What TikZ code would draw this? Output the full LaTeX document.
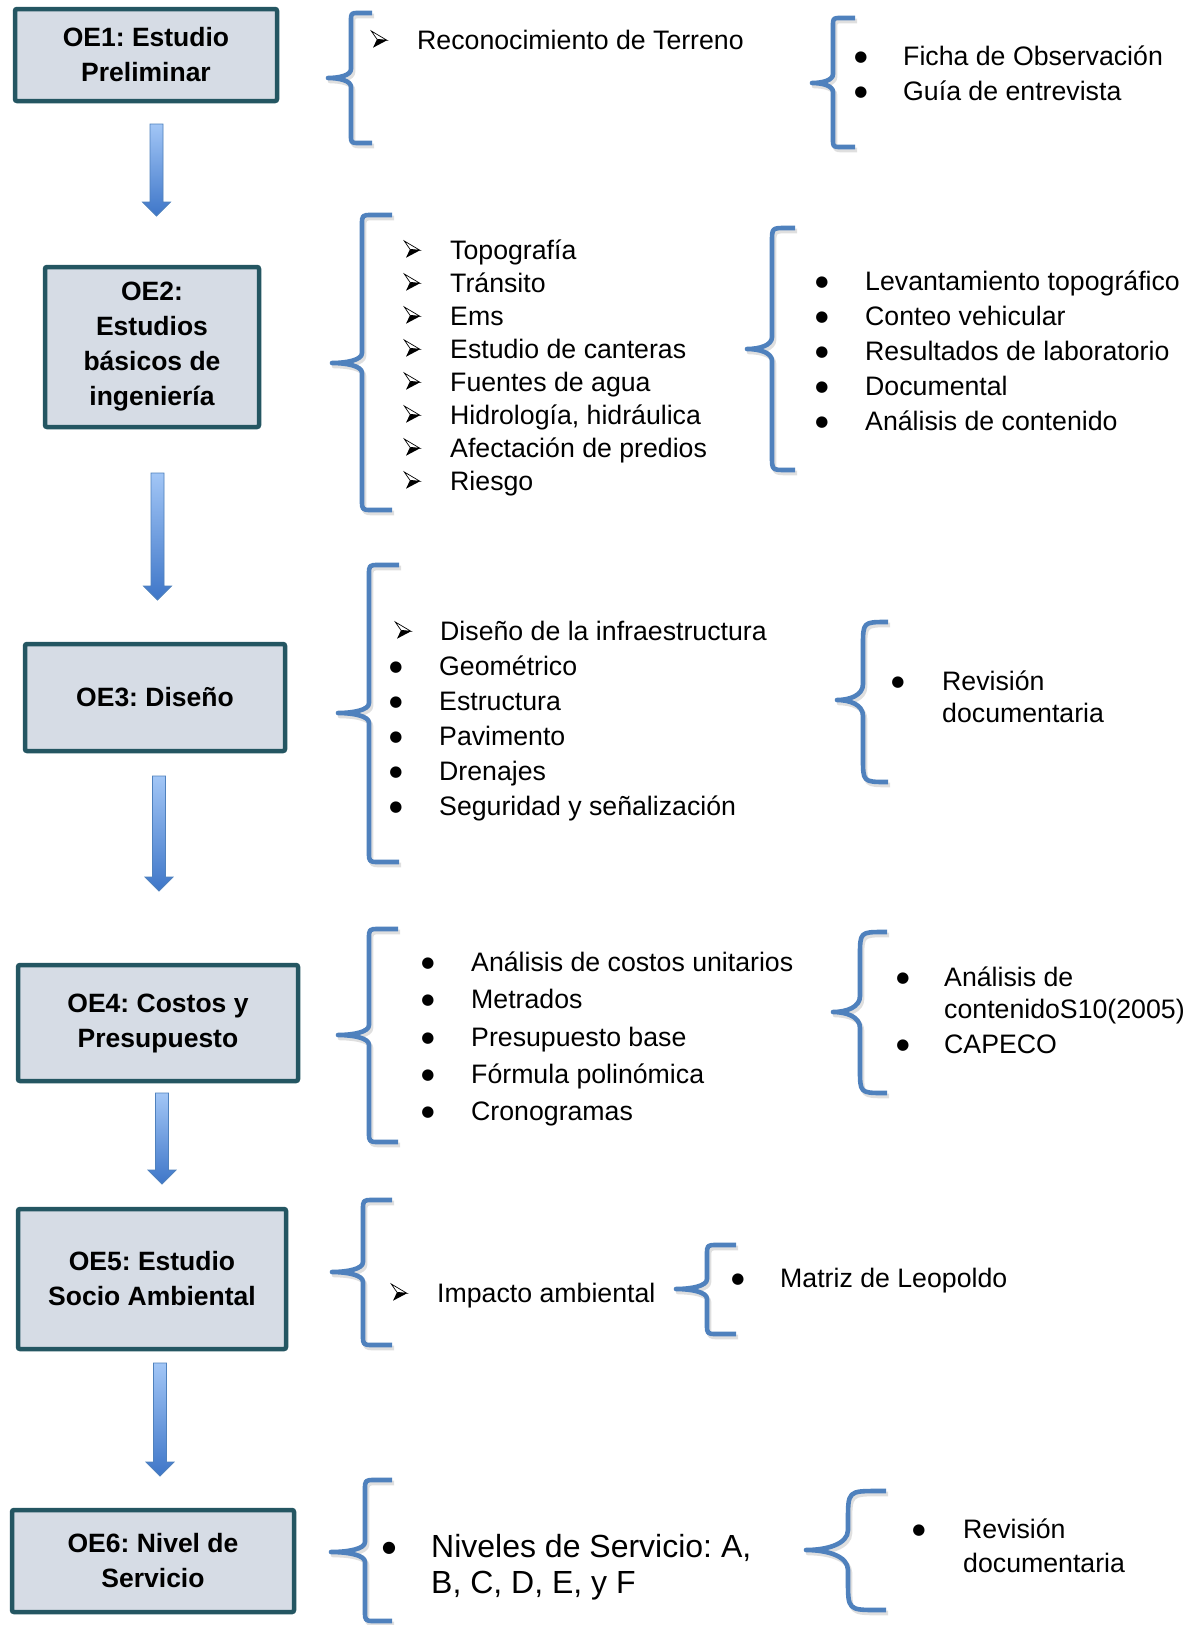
\documentclass[tikz,border=0pt]{standalone}
\usepackage{fontspec}
\setmainfont{Liberation Sans}
\newfontfamily\symfont{DejaVu Sans}
\usetikzlibrary{calc}
\frenchspacing
\definecolor{bracec}{RGB}{79,129,189}
\definecolor{boxline}{RGB}{36,86,98}
\definecolor{boxfill}{RGB}{214,220,229}
\definecolor{arrtop}{RGB}{162,198,246}
\definecolor{arrbot}{RGB}{62,118,200}
\tikzset{
  oebox/.style={draw=boxline, line width=4.5pt, fill=boxfill, rounded corners=2pt, align=center,
    font=\bfseries\fontsize{26.5}{35}\selectfont, inner sep=0pt},
  listtxt/.style={anchor=base west, inner sep=0pt, font=\fontsize{26.7}{35}\selectfont},
  bigtxt/.style={anchor=base west, inner sep=0pt, font=\fontsize{32}{36}\selectfont},
  bul/.style={anchor=base, yshift=4pt, inner sep=0pt, font=\symfont\fontsize{15}{15}\selectfont},
  bigbul/.style={anchor=base, yshift=5pt, inner sep=0pt, font=\symfont\fontsize{16}{16}\selectfont},
  arrowbul/.pic={
    \draw[line width=0.7pt, fill=white, line join=miter] (-7.7,-8) -- (8,1.3) -- (-2,0.3) -- cycle;
    \fill[black] (-2,0.3) -- (8,1.3) -- (-6,8.7) -- cycle;
  },
  bracestyle/.style={draw=bracec, line width=4.6pt, line join=round},
  braceshadow/.style={draw=black!35, opacity=.35, line width=4.6pt, line join=round},
}
% xv xtip xarm ytop ymid ybot rc m
\newcommand\bracehalfs[8]{%
  (#3,#4) -- ({#1+#7},#4) .. controls (#1,#4) .. (#1,{#4+#7}) -- (#1,{#5-#8})
  .. controls (#1,{#5-0.3*#8}) and ({#1-0.5*(#1-#2)},#5) .. (#2,#5)
  .. controls ({#1-0.5*(#1-#2)},#5) and (#1,{#5+0.3*#8}) .. (#1,{#5+#8})
  -- (#1,{#6-#7}) .. controls (#1,#6) .. ({#1+#7},#6) -- (#3,#6)}
\newcommand\mybrace[8]{%
  \draw[braceshadow, shift={(2,3)}] \bracehalfs{#1}{#2}{#3}{#4}{#5}{#6}{#7}{#8};
  \draw[bracestyle] \bracehalfs{#1}{#2}{#3}{#4}{#5}{#6}{#7}{#8};
}
\newcommand\blockarrow[2]{%
  \fill[black!30, opacity=.35, shift={(2,3)}] ($(#1)+(-6.5,0)$) -- ($(#1)+(6.5,0)$) -- ($(#2)+(6.5,-14)$) -- ($(#2)+(14,-14)$) -- (#2) -- ($(#2)+(-14,-14)$) -- ($(#2)+(-6.5,-14)$) -- cycle;
  \draw[bracec, line width=0.8pt, top color=arrtop, bottom color=arrbot]
    ($(#1)+(-6.5,0)$) -- ($(#1)+(6.5,0)$) -- ($(#2)+(6.5,-14)$) -- ($(#2)+(14,-14)$) -- (#2)
    -- ($(#2)+(-14,-14)$) -- ($(#2)+(-6.5,-14)$) -- cycle;
}
\begin{document}
\begin{tikzpicture}[x=1pt,y=-1pt]
\useasboundingbox (0,0) rectangle (1198,1625);
\fill[white] (0,0) rectangle (1198,1625);

% ---------- boxes ----------
\node[oebox, minimum width=262pt, minimum height=92pt] (oe1) at (146,55) {OE1: Estudio\\Preliminar};
\node[oebox, minimum width=214pt, minimum height=160pt] (oe2) at (152,347) {OE2:\\Estudios\\básicos de\\ingeniería};
\node[oebox, minimum width=260pt, minimum height=107pt] (oe3) at (155,697.5) {OE3: Diseño};
\node[oebox, minimum width=280pt, minimum height=116pt] (oe4) at (158,1023) {OE4: Costos y\\Presupuesto};
\node[oebox, minimum width=268pt, minimum height=140pt] (oe5) at (152,1279) {OE5: Estudio\\Socio Ambiental};
\node[oebox, minimum width=282pt, minimum height=102pt] (oe6) at (153,1561) {OE6: Nivel de\\Servicio};

% ---------- block arrows ----------
\coordinate (a1s) at (156.5,124);  \coordinate (a1e) at (156.5,216);
\coordinate (a2s) at (157.5,473);  \coordinate (a2e) at (157.5,600);
\coordinate (a3s) at (159,776);    \coordinate (a3e) at (159,891);
\coordinate (a4s) at (162,1093);   \coordinate (a4e) at (162,1184);
\coordinate (a5s) at (160,1363);   \coordinate (a5e) at (160,1476);
\blockarrow{a1s}{a1e}
\blockarrow{a2s}{a2e}
\blockarrow{a3s}{a3e}
\blockarrow{a4s}{a4e}
\blockarrow{a5s}{a5e}

% ---------- braces ----------
\mybrace{351}{328}{372}{13}{78}{143}{8}{9}
\mybrace{833}{812}{855}{18}{83}{147}{8}{9}
\mybrace{362}{332}{392}{215}{363}{510}{10}{10}
\mybrace{772}{747}{795}{228}{349}{470}{14}{12}
\mybrace{369}{338}{399}{565}{713}{862}{10}{10}
\mybrace{863}{837}{888}{622}{700}{782}{24}{16}
\mybrace{369}{338}{398}{929}{1035}{1142}{10}{10}
\mybrace{860}{833}{887}{932}{1012}{1093}{24}{16}
\mybrace{363}{332}{392}{1200}{1272}{1345}{10}{10}
\mybrace{707}{676}{736}{1245}{1289}{1334}{10}{10}
\mybrace{365}{331}{392}{1480}{1552}{1621}{10}{10}
\mybrace{848}{806}{886}{1491}{1550}{1610}{30}{20}

% ---------- row 1 ----------
\pic (r1b1) at (379,39) {arrowbul};
\node[listtxt] (r1t1) at (417,49) {Reconocimiento de Terreno};
\node[bul] (r1b2) at (861,65) {●};  \node[listtxt] (r1t2) at (903,65) {Ficha de Observación};
\node[bul] (r1b3) at (861,100) {●}; \node[listtxt] (r1t3) at (903,100) {Guía de entrevista};

% ---------- row 2 ----------
\pic (r2b1) at (412,249) {arrowbul}; \node[listtxt] (r2t1) at (450,259) {Topografía};
\pic (r2b2) at (412,282) {arrowbul}; \node[listtxt] (r2t2) at (450,292) {Tránsito};
\pic (r2b3) at (412,315) {arrowbul}; \node[listtxt] (r2t3) at (450,325) {Ems};
\pic (r2b4) at (412,348) {arrowbul}; \node[listtxt] (r2t4) at (450,358) {Estudio de canteras};
\pic (r2b5) at (412,381) {arrowbul}; \node[listtxt] (r2t5) at (450,391) {Fuentes de agua};
\pic (r2b6) at (412,414) {arrowbul}; \node[listtxt] (r2t6) at (450,424) {Hidrología, hidráulica};
\pic (r2b7) at (412,447) {arrowbul}; \node[listtxt] (r2t7) at (450,457) {Afectación de predios};
\pic (r2b8) at (412,480) {arrowbul}; \node[listtxt] (r2t8) at (450,490) {Riesgo};

\node[bul] (r2c1) at (822,290) {●}; \node[listtxt] (r2u1) at (865,290) {Levantamiento topográfico};
\node[bul] (r2c2) at (822,325) {●}; \node[listtxt] (r2u2) at (865,325) {Conteo vehicular};
\node[bul] (r2c3) at (822,360) {●}; \node[listtxt] (r2u3) at (865,360) {Resultados de laboratorio};
\node[bul] (r2c4) at (822,395) {●}; \node[listtxt] (r2u4) at (865,395) {Documental};
\node[bul] (r2c5) at (822,430) {●}; \node[listtxt] (r2u5) at (865,430) {Análisis de contenido};

% ---------- row 3 ----------
\pic (r3b1) at (403,630) {arrowbul}; \node[listtxt] (r3t1) at (440,640) {Diseño de la infraestructura};
\node[bul] (r3b2) at (396,675) {●}; \node[listtxt] (r3t2) at (439,675) {Geométrico};
\node[bul] (r3b3) at (396,710) {●}; \node[listtxt] (r3t3) at (439,710) {Estructura};
\node[bul] (r3b4) at (396,745) {●}; \node[listtxt] (r3t4) at (439,745) {Pavimento};
\node[bul] (r3b5) at (396,780) {●}; \node[listtxt] (r3t5) at (439,780) {Drenajes};
\node[bul] (r3b6) at (396,815) {●}; \node[listtxt] (r3t6) at (439,815) {Seguridad y señalización};

\node[bul] (r3c1) at (898,690) {●}; \node[listtxt] (r3u1) at (942,690) {Revisión};
\node[listtxt] (r3u2) at (942,722) {documentaria};

% ---------- row 4 ----------
\node[bul] (r4b1) at (428,971) {●};  \node[listtxt] (r4t1) at (471,971) {Análisis de costos unitarios};
\node[bul] (r4b2) at (428,1008) {●}; \node[listtxt] (r4t2) at (471,1008) {Metrados};
\node[bul] (r4b3) at (428,1046) {●}; \node[listtxt] (r4t3) at (471,1046) {Presupuesto base};
\node[bul] (r4b4) at (428,1083) {●}; \node[listtxt] (r4t4) at (471,1083) {Fórmula polinómica};
\node[bul] (r4b5) at (428,1120) {●}; \node[listtxt] (r4t5) at (471,1120) {Cronogramas};

\node[bul] (r4c1) at (903,986) {●};  \node[listtxt] (r4u1) at (944,986) {Análisis de};
\node[listtxt] (r4u2) at (944,1018) {contenidoS10(2005)};
\node[bul] (r4c2) at (903,1053) {●}; \node[listtxt] (r4u3) at (944,1053) {CAPECO};

% ---------- row 5 ----------
\pic (r5b1) at (399,1292) {arrowbul}; \node[listtxt] (r5t1) at (437,1302) {Impacto ambiental};
\node[bul] (r5c1) at (738,1287) {●}; \node[listtxt] (r5u1) at (780,1287) {Matriz de Leopoldo};

% ---------- row 6 ----------
\node[bigbul] (r6b1) at (389,1557) {●}; \node[bigtxt] (r6t1) at (431,1557) {Niveles de Servicio: A,};
\node[bigtxt] (r6t2) at (431,1593) {B, C, D, E, y F};
\node[bul] (r6c1) at (919,1538) {●}; \node[listtxt] (r6u1) at (963,1538) {Revisión};
\node[listtxt] (r6u2) at (963,1572) {documentaria};
\end{tikzpicture}
\end{document}
